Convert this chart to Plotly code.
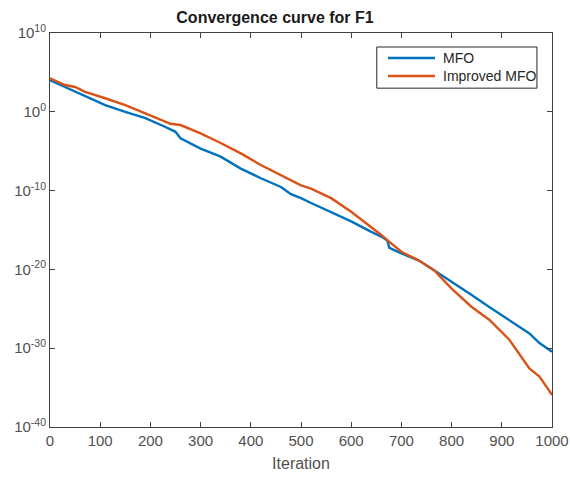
import plotly.graph_objects as go

# Iterations and log10 of best fitness
mfo_iter = [0, 30, 50, 70, 100, 110, 150, 190, 230, 250, 260, 300, 340, 380, 420, 460, 480, 500,
            520, 560, 600, 640, 660, 672, 676, 700, 735, 765, 800, 840, 875, 915, 955, 975, 1000]
mfo_log = [4.0, 3.15, 2.64, 2.03, 1.22, 0.86, 0.0, -0.81, -1.93, -2.54, -3.35, -4.67, -5.69, -7.21,
           -8.43, -9.54, -10.46, -10.96, -11.57, -12.69, -13.91, -15.23, -15.84, -16.34, -17.26,
           -17.97, -18.88, -20.1, -21.52, -23.25, -24.77, -26.39, -28.12, -29.34, -30.45]

imfo_iter = [0, 30, 50, 70, 110, 150, 190, 230, 240, 260, 300, 340, 380, 420, 460, 500, 520, 560,
             600, 640, 660, 675, 700, 735, 765, 800, 840, 875, 915, 955, 975, 1000]
imfo_log = [4.26, 3.40, 3.15, 2.54, 1.72, 0.86, -0.2, -1.22, -1.52, -1.68, -2.74, -3.96, -5.28,
            -6.75, -8.02, -9.34, -9.75, -10.96, -12.69, -14.62, -15.63, -16.44, -17.76, -18.88,
            -20.1, -22.43, -24.77, -26.39, -28.93, -32.58, -33.6, -35.93]

series_names = ["MFO", "Improved MFO"]
series_colors = ["#0072BD", "#D95319"]
x_ticks = [0, 100, 200, 300, 400, 500, 600, 700, 800, 900, 1000]
y_exps = [-40, -30, -20, -10, 0, 10]

mfo_vals = [10 ** v for v in mfo_log]
imfo_vals = [10 ** v for v in imfo_log]

FONT = "Liberation Sans, Arial, sans-serif"

fig = go.Figure()
fig.add_trace(go.Scatter(x=mfo_iter, y=mfo_vals, mode="lines", name=series_names[0],
                         line=dict(color=series_colors[0], width=2.4)))
fig.add_trace(go.Scatter(x=imfo_iter, y=imfo_vals, mode="lines", name=series_names[1],
                         line=dict(color=series_colors[1], width=2.4)))

axis_font = dict(family=FONT, size=15, color="#505050")

# MATLAB-style legend box drawn in plot-area (paper) coordinates
legend_box = dict(x0=0.651, x1=0.970, y0=0.860, y1=0.9645)
legend_rows_y = [0.9365, 0.8909]
sample_x = (0.6733, 0.7669)
label_x = 0.7789

shapes = [dict(type="rect", xref="paper", yref="paper", layer="above",
               fillcolor="white", line=dict(color="#262626", width=1), **legend_box)]
annotations = []
for name, color, ry in zip(series_names, series_colors, legend_rows_y):
    shapes.append(dict(type="line", xref="paper", yref="paper", layer="above",
                       x0=sample_x[0], x1=sample_x[1], y0=ry, y1=ry,
                       line=dict(color=color, width=2.4)))
    annotations.append(dict(text=name, xref="paper", yref="paper", x=label_x, y=ry,
                            xanchor="left", yanchor="middle", showarrow=False,
                            font=dict(family=FONT, size=14, color="#262626")))

fig.update_layout(
    width=570, height=478,
    paper_bgcolor="white", plot_bgcolor="white",
    margin=dict(l=50, r=18, t=33, b=51, autoexpand=False),
    title=dict(text="<b>Convergence curve for F1</b>", xref="container", x=0.4825, xanchor="center",
               yref="container", y=0.9636, yanchor="middle",
               font=dict(family=FONT, size=16, color="#1a1a1a")),
    showlegend=False,
    shapes=shapes,
    annotations=annotations,
)
fig.update_xaxes(
    range=[0, 1000], tickvals=x_ticks, ticktext=[str(t) for t in x_ticks],
    ticks="inside", ticklen=5, tickcolor="#404040", showline=True, linecolor="#404040", linewidth=1,
    mirror="allticks", showgrid=False, zeroline=False, tickfont=axis_font, automargin=False,
    title=dict(text="Iteration", font=dict(family=FONT, size=16, color="#505050"), standoff=9),
)
fig.update_yaxes(
    type="log", range=[-40, 10], tickvals=[10 ** e for e in y_exps],
    ticktext=["10<sup>%d</sup>" % e for e in y_exps],
    ticks="inside", ticklen=5, tickcolor="#404040", showline=True, linecolor="#404040", linewidth=1,
    mirror="allticks", showgrid=False, zeroline=False, tickfont=axis_font, automargin=False,
)

# remove the browser's default 8px body margin so the figure fills the 570x478 window
fig.write_html("out.html", config={"displayModeBar": False},
               post_script="document.body.style.margin='0';document.documentElement.style.overflow='hidden';")
